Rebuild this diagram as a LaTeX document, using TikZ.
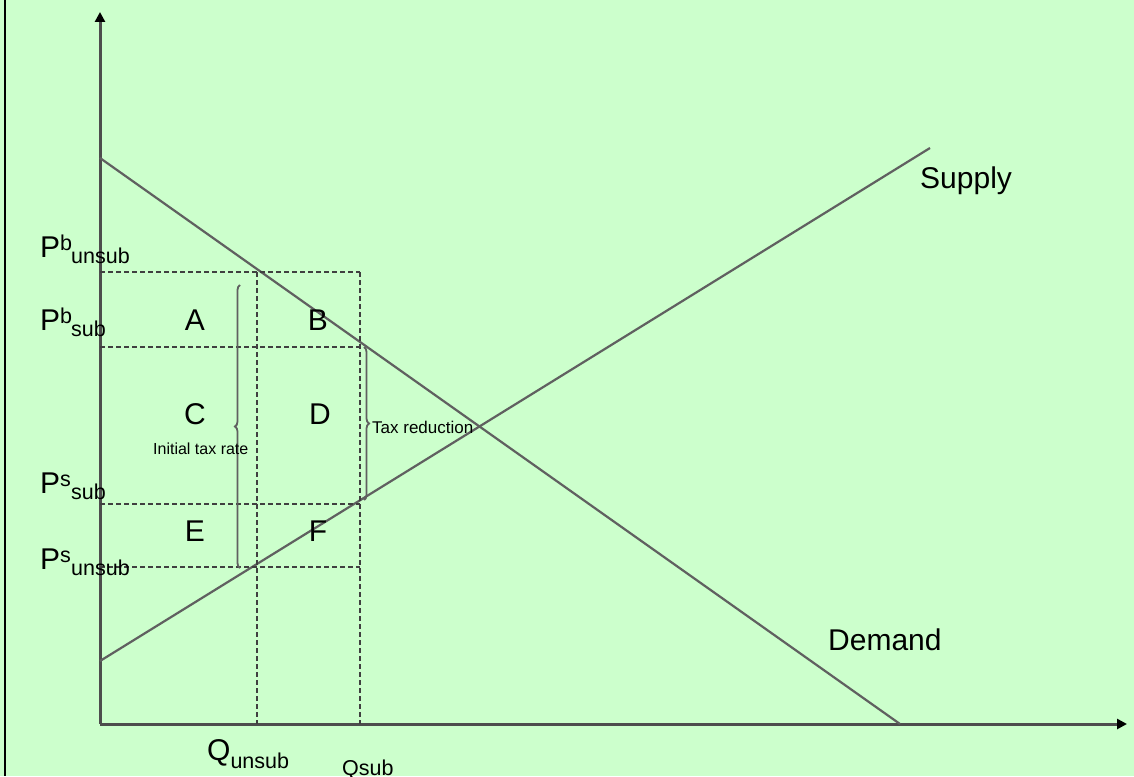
\documentclass[tikz,border=0pt]{standalone}
\usepackage{fontspec}
\setmainfont{Liberation Sans}
\usetikzlibrary{arrows.meta,decorations.pathreplacing}
\definecolor{bg}{RGB}{204,255,204}
\definecolor{axisc}{RGB}{77,77,77}
\definecolor{curvec}{RGB}{96,96,96}
\definecolor{dashc}{RGB}{64,64,64}
\newcommand\bigf{\fontsize{30}{30}\selectfont}
\newcommand\smf{\fontsize{21.5}{21.5}\selectfont}
\newcommand\plab[2]{{\bigf P}\rlap{\raisebox{7pt}{\smf #1}}\hspace{11pt}\raisebox{-6pt}{\smf #2}}
\tikzset{
  axisline/.style={draw=axisc, line width=3pt, -{Triangle[length=10pt,width=10pt,color=black]}},
  curve/.style={draw=curvec, line width=2.2pt},
  guide/.style={draw=dashc, line width=2.2pt, dash pattern=on 5pt off 3pt},
  bracestyle/.style={draw=curvec, line width=1.8pt, decorate, decoration={brace, amplitude=5pt}},
  lab/.style={inner sep=0pt, anchor=base, font=\bigf},
  txt/.style={inner sep=0pt, anchor=base west},
}
\begin{document}
\begin{tikzpicture}[x=1pt,y=-1pt]
\fill[bg] (0,0) rectangle (1134,776);
\useasboundingbox (0,0) rectangle (1134,776);
\coordinate (fr0) at (5,0); \coordinate (fr1) at (5,776);
\draw[black, line width=2pt] (fr0) -- (fr1);
% axes
\coordinate (O) at (100,724);
\coordinate (ytop) at (100,12);
\coordinate (xend) at (1127,724);
\draw[axisline] (O) -- (ytop);
\draw[axisline] (O) -- (xend);
% curves
\coordinate (d0) at (100,158); \coordinate (d1) at (900,724);
\coordinate (s0) at (100,661); \coordinate (s1) at (930,148);
\draw[curve] (d0) -- (d1);
\draw[curve] (s0) -- (s1);
% dashed guides
\coordinate (hA0) at (100,272); \coordinate (hA1) at (360,272);
\coordinate (hB0) at (100,347); \coordinate (hB1) at (360,347);
\coordinate (hC0) at (100,504); \coordinate (hC1) at (360,504);
\coordinate (hD0) at (100,567); \coordinate (hD1) at (360,567);
\coordinate (vA0) at (257,272); \coordinate (vA1) at (257,724);
\coordinate (vB0) at (360,272); \coordinate (vB1) at (360,724);
\draw[guide] (hA0) -- (hA1);
\draw[guide] (hB0) -- (hB1);
\draw[guide] (hC0) -- (hC1);
\draw[guide] (hD0) -- (hD1);
\draw[guide] (vA0) -- (vA1);
\draw[guide] (vB0) -- (vB1);
% braces
\coordinate (bl0) at (240,568); \coordinate (bl1) at (240,285);
\coordinate (br0) at (364,347); \coordinate (br1) at (364,500);
\draw[bracestyle] (bl0) -- (bl1);
\draw[bracestyle] (br0) -- (br1);
% price labels
\node[txt] (pbu) at (40,257) {\plab{b}{unsub}};
\node[txt] (pbs) at (40,330) {\plab{b}{sub}};
\node[txt] (pss) at (40,493) {\plab{s}{sub}};
\node[txt] (psu) at (40,569) {\plab{s}{unsub}};
% area letters
\node[lab] (A) at (195,330) {A};
\node[lab] (B) at (318,330) {B};
\node[lab] (C) at (195,424) {C};
\node[lab] (D) at (320,424) {D};
\node[lab] (E) at (195,541) {E};
\node[lab] (F) at (318,541) {F};
% small texts
\node[txt, font=\fontsize{16}{16}\selectfont] (itr) at (153,454) {Initial tax rate};
\node[txt, font=\fontsize{17}{17}\selectfont] (tr) at (372,433) {Tax reduction};
% curve names
\node[txt, font=\bigf] (sup) at (920,188) {Supply};
\node[txt, font=\bigf] (dem) at (828,650) {Demand};
% quantity labels
\node[txt] (qu) at (207,760) {{\bigf Q}\raisebox{-8pt}{\smf unsub}};
\node[txt, font=\smf] (qs) at (342,775) {Qsub};
\end{tikzpicture}
\end{document}
